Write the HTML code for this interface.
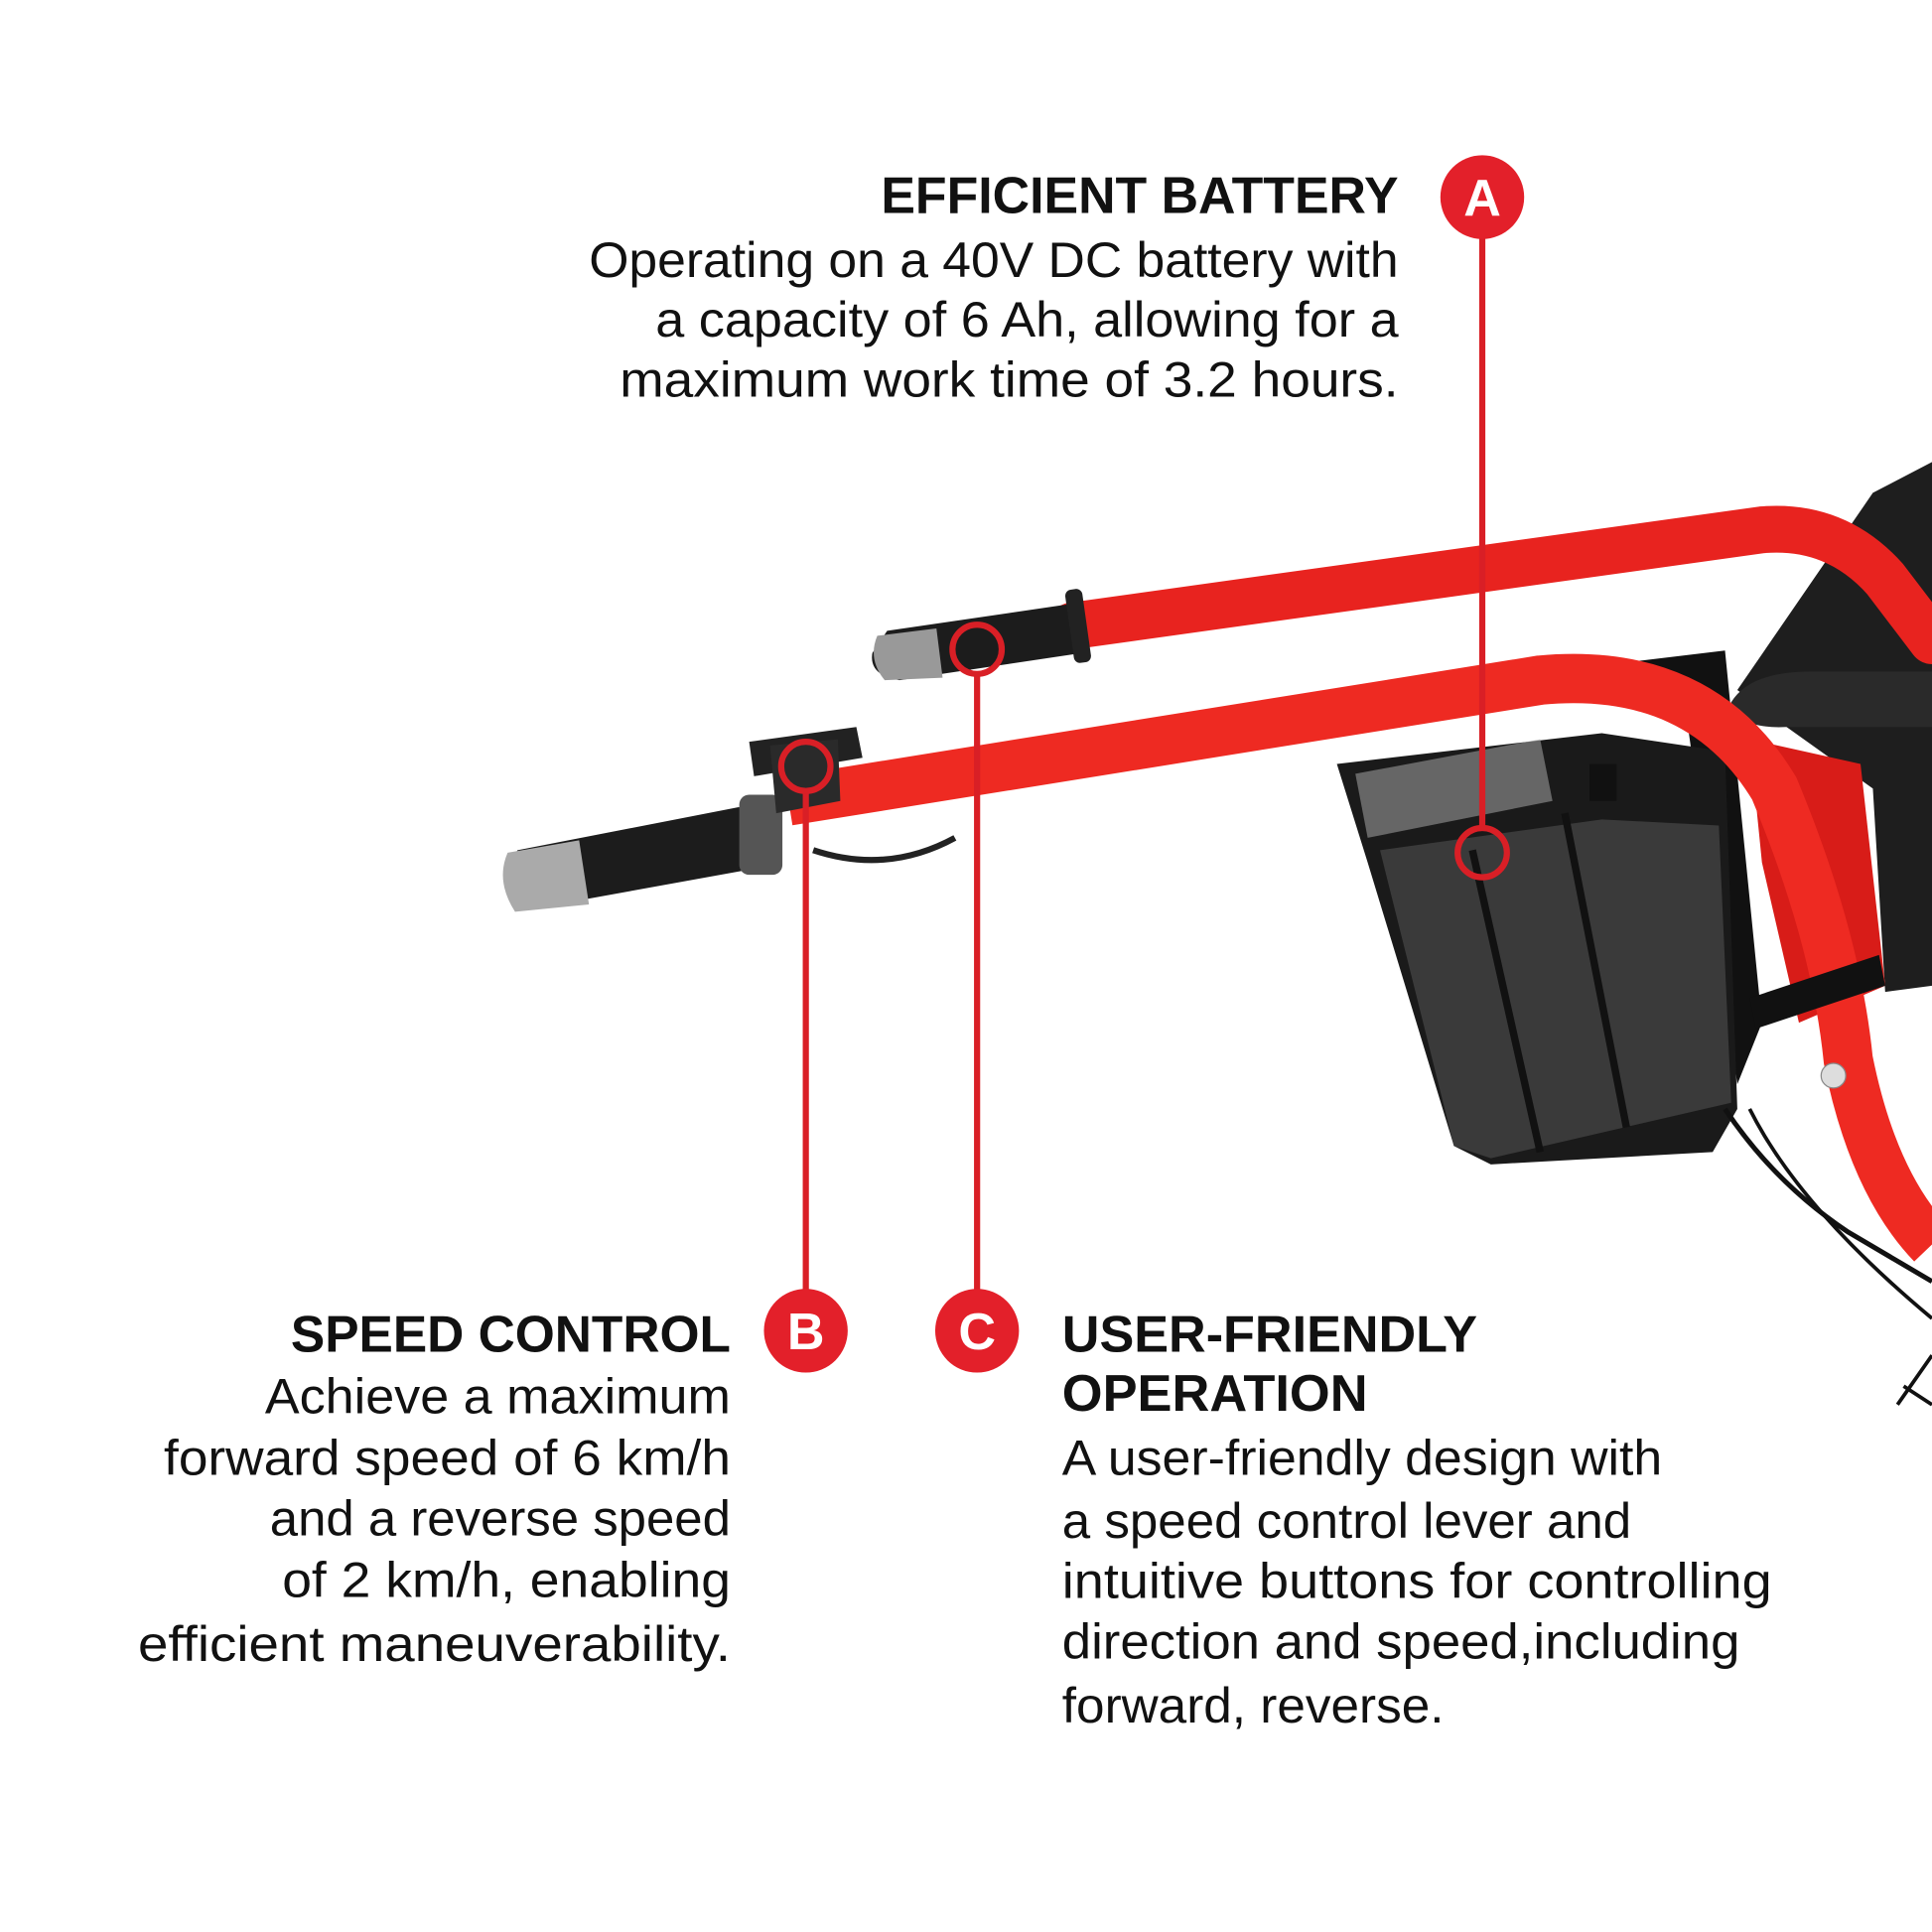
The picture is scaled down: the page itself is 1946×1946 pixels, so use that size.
<!DOCTYPE html>
<html><head><style>html,body{margin:0;padding:0;background:#fff}svg{display:block}</style></head>
<body>
<svg width="1946" height="1946" viewBox="0 0 1568 1568" xmlns="http://www.w3.org/2000/svg" font-family="Liberation Sans, sans-serif">
<rect width="1568" height="1568" fill="#fff"/>
<!-- black hopper top right -->
<path d="M1410 560 L1520 400 L1568 375 L1568 800 L1530 805 L1520 640 L1450 590 Z" fill="#1e1e1e"/>
<path d="M1405 570 Q1420 545 1470 545 L1568 545 L1568 590 L1450 590 Q1410 592 1405 570Z" fill="#2a2a2a"/>
<!-- red engine parts -->
<path d="M1420 600 L1510 620 L1530 800 L1460 830 L1430 700Z" fill="#d81c18"/>
<!-- black box behind battery -->
<path d="M1300 540 L1400 528 L1430 830 L1410 880 L1370 590Z" fill="#111"/>
<!-- battery -->
<path d="M1085 620 L1300 595 L1400 610 L1410 900 L1390 935 L1210 945 L1180 930 L1110 700Z" fill="#1a1a1a"/>
<path d="M1120 690 L1300 665 L1395 670 L1405 895 L1210 940 L1180 930Z" fill="#3a3a3a"/>
<path d="M1100 628 L1250 600 L1260 650 L1110 680Z" fill="#9a9a9a" opacity="0.6"/>
<line x1="1195" y1="690" x2="1250" y2="935" stroke="#111" stroke-width="6"/>
<line x1="1270" y1="660" x2="1320" y2="915" stroke="#111" stroke-width="6"/>
<rect x="1290" y="620" width="22" height="30" fill="#111"/>
<!-- cables -->
<path d="M1400 900 Q1440 960 1500 1000 L1568 1040" fill="none" stroke="#111" stroke-width="4"/>
<path d="M1420 900 Q1460 980 1568 1070" fill="none" stroke="#111" stroke-width="3"/>
<path d="M1540 1140 L1568 1100 M1545 1125 L1568 1140" stroke="#111" stroke-width="3"/>
<!-- upper red bar -->
<path d="M870 508 L1430 430 Q1490 425 1530 470 L1568 520" fill="none" stroke="#e8231f" stroke-width="38" stroke-linecap="round"/>
<!-- lower red bar -->
<path d="M640 650 L1250 552 Q1380 540 1440 640 Q1490 760 1500 860 Q1520 960 1568 1010" fill="none" stroke="#ee2a22" stroke-width="40"/>
<circle cx="1488" cy="873" r="10" fill="#ddd" stroke="#888"/>
<path d="M1420 810 L1525 775 L1530 800 L1425 835Z" fill="#111"/>
<!-- upper grip -->
<path d="M720 512 L870 490 L878 530 L730 552 Q705 548 708 530Z" fill="#1c1c1c"/>
<path d="M712 516 L760 510 L765 550 L718 552 Q704 535 712 516Z" fill="#999"/>
<rect x="868" y="478" width="14" height="60" rx="5" fill="#222" transform="rotate(-8 875 508)"/>
<!-- lower grip and lever -->
<path d="M420 690 L600 655 L612 705 L430 738 Q405 715 420 690Z" fill="#1c1c1c"/>
<path d="M412 692 L470 682 L478 734 L418 740 Q402 715 412 692Z" fill="#aaa"/>
<rect x="600" y="645" width="35" height="65" rx="8" fill="#555"/>
<path d="M608 602 L695 590 L700 615 L612 630Z" fill="#222"/>
<path d="M625 605 L680 600 L682 650 L630 660Z" fill="#2a2a2a"/>
<path d="M660 690 Q720 710 775 680" fill="none" stroke="#222" stroke-width="5"/>
<!-- callout lines -->
<g stroke="#d91f26" stroke-width="5" fill="none">
<line x1="1203" y1="160" x2="1203" y2="672"/>
<circle cx="1203" cy="692" r="20"/>
<line x1="654" y1="642" x2="654" y2="1080"/>
<circle cx="654" cy="622" r="20"/>
<line x1="793" y1="547" x2="793" y2="1080"/>
<circle cx="793" cy="527" r="20"/>
</g>
<g fill="#e3202a">
<circle cx="1203" cy="160" r="34"/>
<circle cx="654" cy="1080" r="34"/>
<circle cx="793" cy="1080" r="34"/>
</g>
<g fill="#fff" font-weight="bold" font-size="42" text-anchor="middle">
<text x="1203" y="175">A</text>
<text x="654" y="1095">B</text>
<text x="793" y="1095">C</text>
</g>
<g fill="#111">
<g font-weight="bold" font-size="42">
<text x="1135" y="173" text-anchor="end" textLength="420" lengthAdjust="spacingAndGlyphs">EFFICIENT BATTERY</text>
<text x="593" y="1097" text-anchor="end" textLength="357" lengthAdjust="spacingAndGlyphs">SPEED CONTROL</text>
<text x="862" y="1097" textLength="337" lengthAdjust="spacingAndGlyphs">USER-FRIENDLY</text>
<text x="862" y="1145" textLength="248" lengthAdjust="spacingAndGlyphs">OPERATION</text>
</g>
<g font-size="40">
<text x="1135" y="225" text-anchor="end" textLength="657" lengthAdjust="spacingAndGlyphs">Operating on a 40V DC battery with</text>
<text x="1135" y="273" text-anchor="end" textLength="603" lengthAdjust="spacingAndGlyphs">a capacity of 6 Ah, allowing for a</text>
<text x="1135" y="322" text-anchor="end" textLength="632" lengthAdjust="spacingAndGlyphs">maximum work time of 3.2 hours.</text>
<text x="593" y="1147" text-anchor="end" textLength="378" lengthAdjust="spacingAndGlyphs">Achieve a maximum</text>
<text x="593" y="1197" text-anchor="end" textLength="460" lengthAdjust="spacingAndGlyphs">forward speed of 6 km/h</text>
<text x="593" y="1246" text-anchor="end" textLength="374" lengthAdjust="spacingAndGlyphs">and a reverse speed</text>
<text x="593" y="1296" text-anchor="end" textLength="364" lengthAdjust="spacingAndGlyphs">of 2 km/h, enabling</text>
<text x="593" y="1348" text-anchor="end" textLength="481" lengthAdjust="spacingAndGlyphs">efficient maneuverability.</text>
<text x="862" y="1197" textLength="487" lengthAdjust="spacingAndGlyphs">A user-friendly design with</text>
<text x="862" y="1248" textLength="462" lengthAdjust="spacingAndGlyphs">a speed control lever and</text>
<text x="862" y="1297" textLength="576" lengthAdjust="spacingAndGlyphs">intuitive buttons for controlling</text>
<text x="862" y="1346" textLength="550" lengthAdjust="spacingAndGlyphs">direction and speed,including</text>
<text x="862" y="1398" textLength="310" lengthAdjust="spacingAndGlyphs">forward, reverse.</text>
</g>
</g>
</svg>
</body></html>
